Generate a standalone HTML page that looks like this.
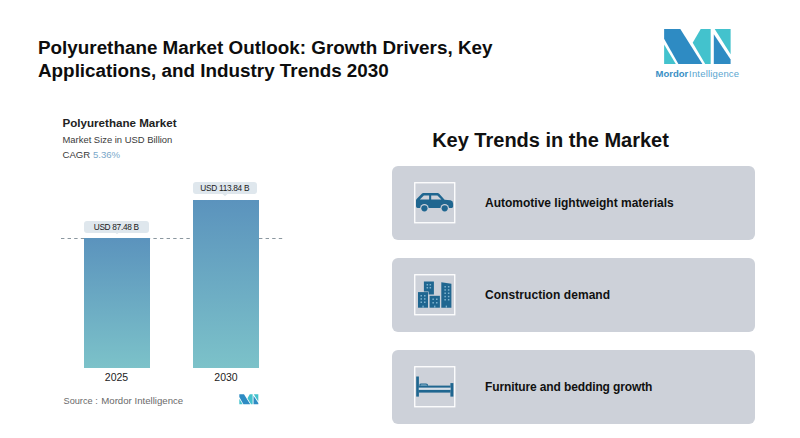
<!DOCTYPE html>
<html><head><meta charset="utf-8">
<style>
html,body{margin:0;padding:0;background:#fff;}
body{width:800px;height:438px;position:relative;overflow:hidden;font-family:"Liberation Sans",sans-serif;color:#111;}
.abs{position:absolute;white-space:nowrap;}
.title{left:38px;top:35.5px;font-size:18.85px;font-weight:bold;line-height:23px;color:#0d0d0d;}
.card{position:absolute;left:392px;width:363px;height:73.5px;background:#cdd1d9;border-radius:6px;}
.ibox{position:absolute;left:22px;top:16px;width:41.5px;height:41.5px;}
.ctext{position:absolute;left:93px;top:29.5px;font-size:12px;font-weight:bold;color:#111;white-space:nowrap;}
.lbl{height:12px;background:#dfe7ed;border-radius:3px;font-size:8.3px;line-height:12px;text-align:center;color:#1a1a1a;letter-spacing:-0.3px;}
</style></head><body>
<div class="abs title">Polyurethane Market Outlook: Growth Drivers, Key<br>Applications, and Industry Trends 2030</div>

<!-- logo -->
<svg class="abs" style="left:663px;top:27.7px" width="70" height="38" viewBox="0 0 70 38">
<polygon points="1.1,0.9 17.3,0.9 39.4,36 15.4,36 1.1,10.8" fill="#2e8bc3"/>
<polygon points="1.1,16.5 1.1,36 12.8,36" fill="#43c2cd"/>
<polygon points="37.7,0.9 47.7,0.9 47.7,36 42.2,36 29.7,14.8" fill="#43c2cd"/>
<polygon points="51.7,0.9 67.6,0.9 67.6,26.3" fill="#43c2cd"/>
<polygon points="50.8,6.3 67.6,31.4 67.6,36 50.8,36" fill="#2e8bc3"/>
</svg>
<div class="abs" style="left:655.6px;top:68px;font-size:9.5px;color:#3a8fc4;"><b>Mordor</b><span style="color:#5aa6cf;margin-left:0.8px;letter-spacing:0.17px">Intelligence</span></div>

<!-- chart -->
<div class="abs" style="left:62.5px;top:116px;font-size:11.6px;font-weight:bold;color:#222;">Polyurethane Market</div>
<div class="abs" style="left:62.5px;top:133.8px;font-size:9.42px;color:#3a3a3a;">Market Size in USD Billion</div>
<div class="abs" style="left:62.5px;top:149px;font-size:9.6px;color:#3a3a3a;">CAGR <span style="color:#7aa7c9">5.36%</span></div>

<svg class="abs" style="left:61.4px;top:237px" width="223" height="3"><line x1="0" y1="1.5" x2="221.4" y2="1.5" stroke="#8b979f" stroke-width="1" stroke-dasharray="3.4,3.2"/></svg>
<div class="abs" style="left:84px;top:238px;width:65.5px;height:130px;background:linear-gradient(#5b93bd,#7cc2c9);"></div>
<div class="abs" style="left:193px;top:199.5px;width:66px;height:168.5px;background:linear-gradient(#5b93bd,#7cc2c9);"></div>
<div class="abs lbl" style="left:84px;top:220.5px;width:64.5px;">USD 87.48 B</div>
<svg class="abs" style="left:113.5px;top:232.3px" width="6" height="3"><polygon points="0.5,0 5.5,0 3,2.2" fill="#dfe7ed"/></svg>
<div class="abs lbl" style="left:193px;top:182px;width:63.5px;">USD 113.84 B</div>
<svg class="abs" style="left:222px;top:193.8px" width="6" height="3"><polygon points="0.5,0 5.5,0 3,2.2" fill="#dfe7ed"/></svg>
<div class="abs" style="left:84px;top:371px;width:65px;text-align:center;font-size:10.5px;color:#222;">2025</div>
<div class="abs" style="left:193px;top:371px;width:66px;text-align:center;font-size:10.5px;color:#222;">2030</div>
<div class="abs" style="left:63.5px;top:395px;font-size:9.65px;color:#6a6a6a;"><span style="font-size:9.2px;display:inline-block;width:37.8px">Source :</span>Mordor Intelligence</div>
<svg class="abs" style="left:238.6px;top:394px" width="20" height="10.9" viewBox="0 0 70 38">
<polygon points="1.1,0.9 17.3,0.9 39.4,36 15.4,36 1.1,10.8" fill="#2e8bc3"/>
<polygon points="1.1,16.5 1.1,36 12.8,36" fill="#43c2cd"/>
<polygon points="37.7,0.9 47.7,0.9 47.7,36 42.2,36 29.7,14.8" fill="#43c2cd"/>
<polygon points="51.7,0.9 67.6,0.9 67.6,26.3" fill="#43c2cd"/>
<polygon points="50.8,6.3 67.6,31.4 67.6,36 50.8,36" fill="#2e8bc3"/>
</svg>

<!-- right -->
<div class="abs" style="left:392px;width:317px;top:128.5px;text-align:center;font-size:20px;font-weight:bold;color:#111;">Key Trends in the Market</div>

<div class="card" style="top:166px">
<svg class="ibox" viewBox="0 0 41.5 41.5">
<rect x="0.75" y="0.75" width="40" height="40" fill="none" stroke="#fff" stroke-width="1.3"/>
<path d="M9.2,10.9 H23.6 Q24.4,10.9 25,11.5 L30.6,17.7 L36.5,18.3 Q39.1,18.8 39.1,21.5 V24.6 Q39.1,25.9 37.8,25.9 H3.6 Q2,25.9 2,24.3 V18.5 Q2,17.7 2.6,17.1 L8,11.4 Q8.5,10.9 9.2,10.9 Z" fill="#1f6690"/>
<polygon points="5.9,17.5 9.9,13.5 15.15,13.5 15.15,17.5" fill="#cdd1d9"/>
<polygon points="17.2,13.5 23.4,13.5 27.4,17.5 17.2,17.5" fill="#cdd1d9"/>
<circle cx="10.4" cy="26.3" r="4.3" fill="#cdd1d9"/><circle cx="30.7" cy="26.3" r="4.3" fill="#cdd1d9"/>
<circle cx="10.4" cy="26.3" r="3.1" fill="#1f6690"/><circle cx="30.7" cy="26.3" r="3.1" fill="#1f6690"/>
</svg>
<div class="ctext">Automotive lightweight materials</div></div>

<div class="card" style="top:258px">
<svg class="ibox" viewBox="0 0 41.5 41.5">
<rect x="0.75" y="0.75" width="40" height="40" fill="none" stroke="#fff" stroke-width="1.3"/>
<g fill="#1f6690">
<rect x="9.9" y="7.5" width="10" height="13"/>
<rect x="3.4" y="17.5" width="11.2" height="16.2" fill="#cdd1d9"/>
<rect x="4" y="18.1" width="10" height="15.6"/>
<rect x="15.6" y="21.8" width="10.3" height="11.9"/>
<polygon points="27.3,8.3 37.4,9.8 37.4,33.7 27.3,33.7"/>
</g>
<g fill="#7fb3cf">
<rect x="12.6" y="10" width="1.5" height="1.5"/><rect x="15.6" y="10" width="1.5" height="1.5"/>
<rect x="12.6" y="13" width="1.5" height="1.5"/><rect x="15.6" y="13" width="1.5" height="1.5"/>
<rect x="6.5" y="21" width="1.5" height="1.5"/><rect x="10" y="21" width="1.5" height="1.5"/>
<rect x="6.5" y="24.2" width="1.5" height="1.5"/><rect x="10" y="24.2" width="1.5" height="1.5"/>
<rect x="6.5" y="27.5" width="1.5" height="1.5"/><rect x="10" y="27.5" width="1.5" height="1.5"/>
<rect x="18.4" y="24.5" width="1.5" height="1.5"/><rect x="22" y="24.5" width="1.5" height="1.5"/>
<rect x="18.4" y="28" width="1.5" height="1.5"/><rect x="22" y="28" width="1.5" height="1.5"/>
<rect x="30.4" y="12" width="1.5" height="1.5"/><rect x="33.9" y="12" width="1.5" height="1.5"/>
<rect x="30.4" y="15.2" width="1.5" height="1.5"/><rect x="33.9" y="15.2" width="1.5" height="1.5"/>
<rect x="30.4" y="18.5" width="1.5" height="1.5"/><rect x="33.9" y="18.5" width="1.5" height="1.5"/>
<rect x="30.4" y="21.8" width="1.5" height="1.5"/><rect x="33.9" y="21.8" width="1.5" height="1.5"/>
<rect x="30.4" y="25" width="1.5" height="1.5"/><rect x="33.9" y="25" width="1.5" height="1.5"/>
<rect x="8.4" y="31.6" width="1.3" height="2.1"/><rect x="20.1" y="31.6" width="1.3" height="2.1"/><rect x="31.7" y="31.6" width="1.3" height="2.1"/>
</g>
</svg>
<div class="ctext" style="letter-spacing:0.06px">Construction demand</div></div>

<div class="card" style="top:350px">
<svg class="ibox" viewBox="0 0 41.5 41.5">
<rect x="0.75" y="0.75" width="40" height="40" fill="none" stroke="#fff" stroke-width="1.3"/>
<g fill="#1f6690">
<rect x="2.2" y="10.5" width="2.7" height="20.1"/>
<rect x="36.4" y="17.1" width="3" height="13.5"/>
<rect x="4.8" y="21.6" width="31.7" height="2.3" fill="#d6dfe8"/>
<rect x="4.8" y="19.6" width="31.7" height="2"/>
<rect x="4.8" y="23.9" width="31.7" height="2.7"/>
<path d="M5.5,19.8 V18.6 Q5.5,17.4 7,17.4 H12 Q14.2,17.4 14.2,19.8 Z"/>
</g>
<path d="M6.6,19.6 V19 Q6.6,18.5 7.3,18.5 H11.6 Q12.9,18.5 13,19.6 Z" fill="#8db9d0"/>
</svg>
<div class="ctext" style="letter-spacing:-0.12px">Furniture and bedding growth</div></div>
</body></html>
